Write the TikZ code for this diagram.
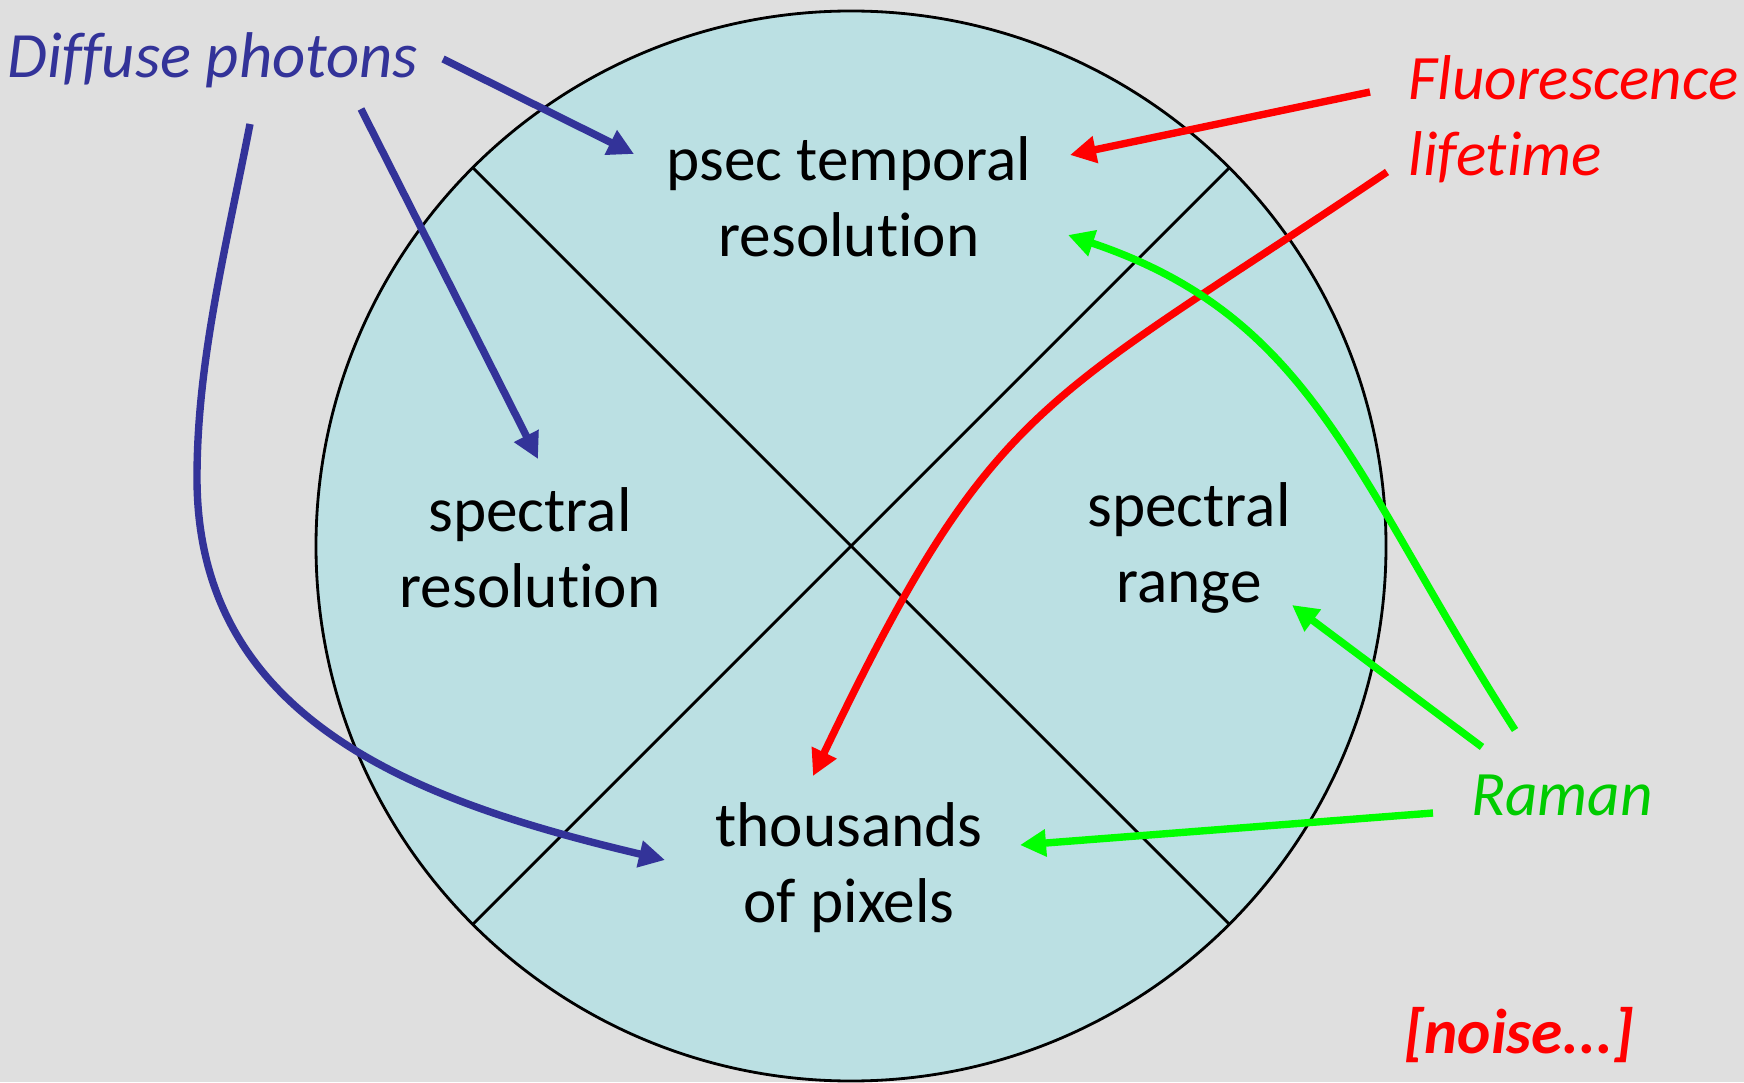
\documentclass[tikz,border=0pt]{standalone}
\usepackage{fontspec}
\setmainfont[Ligatures = NoCommon]{Carlito}
\usetikzlibrary{arrows.meta}
\definecolor{slidegray}{RGB}{223,223,223}
\definecolor{discblue}{RGB}{187,224,227}
\definecolor{photonblue}{RGB}{51,51,153}
\definecolor{ramangreen}{RGB}{0,255,0}
\definecolor{ramantext}{RGB}{0,204,0}
\begin{document}
\begin{tikzpicture} [
	quad/.style = {align = center, font = \fontsize{18pt}{21.6pt}\selectfont},
	cue/.style = {align = left, inner sep = 0pt, font = \fontsize{18pt}{21.6pt}\selectfont\itshape},
	link/.style = {line width = 2.1pt, -{Triangle[length = 2.6mm, width = 2.6mm]}}
]
	\fill [slidegray] (0,0) rectangle (17.44,10.82);
	\useasboundingbox (0,0) rectangle (17.44,10.82);
	\node [circle, draw, line width = 0.8pt, fill = discblue, minimum size = 10.7cm, inner sep = 0pt, outer sep = 0pt] (disc) at (8.51,5.36) {};
	\draw [line width = 0.8pt] (disc.135) -- (disc.-45);
	\draw [line width = 0.8pt] (disc.45) -- (disc.-135);
	\node [quad] (temporal) at (8.49,8.85) {psec temporal\\resolution};
	\node [quad] (specres) at (5.30,5.34) {spectral\\resolution};
	\node [quad] (specrange) at (11.89,5.34) {spectral\\range};
	\node [quad] (pixels) at (8.49,2.14) {thousands\\of pixels};
	\node [cue, text = photonblue, font = \fontsize{18.4pt}{22pt}\selectfont\itshape] (diffuse) at (2.13,10.22) {Diffuse photons};
	\node [cue, text = red, anchor = west] (fluor) at (14.08,9.63) {Fluorescence\\lifetime};
	\node [cue, text = ramantext] (raman) at (15.62,2.87) {Raman};
	\node [cue, text = red, font = \fontsize{18pt}{21.6pt}\selectfont\bfseries\itshape] (noise) at (15.19,0.47) {[noise...]};
	\coordinate (d1) at (4.43,10.23);
	\coordinate (d2) at (3.61,9.73);
	\coordinate (d3) at (2.50,9.58);
	\coordinate (d3m) at (1.97,6.04);
	\coordinate (t1) at (6.34,9.28);
	\coordinate (t2) at (5.38,6.23);
	\coordinate (t3) at (6.65,2.22);
	\coordinate (f1) at (13.70,9.90);
	\coordinate (f2) at (13.87,9.10);
	\coordinate (t4) at (10.70,9.27);
	\coordinate (t5) at (8.13,3.06);
	\coordinate (r1) at (15.15,3.52);
	\coordinate (r2) at (14.82,3.35);
	\coordinate (r3) at (14.33,2.69);
	\coordinate (t6) at (10.68,8.47);
	\coordinate (t7) at (12.92,4.77);
	\coordinate (t8) at (10.20,2.37);
	\draw [link, photonblue] (d1) -- (t1);
	\draw [link, photonblue] (d2) -- (t2);
	\draw [link, photonblue] (d3) .. controls (2.25,8.3) and (1.97,7.2) .. (d3m) .. controls (1.97,3.6) and (4.2,2.8) .. (t3);
	\draw [link, red] (f1) -- (t4);
	\draw [link, red] (f2) .. controls (10.38,6.75) and (9.94,6.84) .. (t5);
	\draw [link, ramangreen] (r1) .. controls (13.53,6.04) and (13.15,7.64) .. (t6);
	\draw [link, ramangreen] (r2) -- (t7);
	\draw [link, ramangreen] (r3) -- (t8);
\end{tikzpicture}
\end{document}
